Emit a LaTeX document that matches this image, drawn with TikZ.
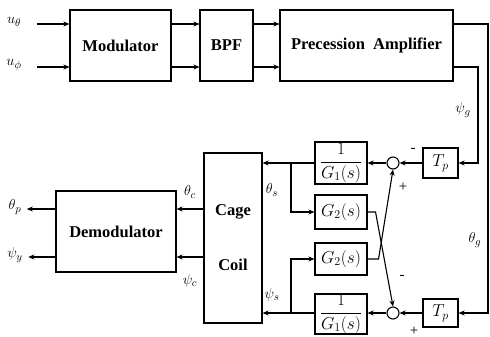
\documentclass[tikz,border=0pt]{standalone}
\usepackage{fontspec}
\setmainfont{Liberation Serif}
\usetikzlibrary{arrows.meta, positioning, calc}

\begin{document}
\begin{tikzpicture}[x=1pt, y=-1pt, >={Stealth[length=6pt, width=5pt]}, line width=1.1pt,
  blk/.style={draw, font=\fontsize{16.5}{19}\selectfont\bfseries, inner sep=0pt},
  sig/.style={font=\fontsize{15}{17}\selectfont, inner sep=1pt},
  sumc/.style={draw, circle, minimum size=12pt, inner sep=0pt}]
  \useasboundingbox (0,0) rectangle (490,337);
  \node[blk, minimum width=101pt, minimum height=71pt] (mod) at (120.5,45.5) {Modulator};
  \node[blk, minimum width=53pt, minimum height=71pt] (bpf) at (226.5,45.5) {BPF};
  \node[blk, minimum width=173pt, minimum height=71pt] (pa) at (366.5,45.5) {Precession\ \ Amplifier};
  \node[sig] (uth) at (14,22) {$u_\theta$};
  \node[sig] (uph) at (14,65) {$u_\phi$};
  \draw[->] ([xshift=14pt]uth.east |- 0,24) -- ([yshift=21.5pt]mod.west);
  \draw[->] ([xshift=14pt]uph.east |- 0,67) -- ([yshift=-21.5pt]mod.west);
  \draw[->] ([yshift=21.5pt]mod.east) -- ([yshift=21.5pt]bpf.west);
  \draw[->] ([yshift=-21.5pt]mod.east) -- ([yshift=-21.5pt]bpf.west);
  \draw[->] ([yshift=21.5pt]bpf.east) -- ([yshift=21.5pt]pa.west);
  \draw[->] ([yshift=-21.5pt]bpf.east) -- ([yshift=-21.5pt]pa.west);
  \node[blk, minimum width=35pt, minimum height=30pt] (tp1) at (440.5,163) {$T_p$};
  \node[blk, minimum width=35pt, minimum height=28pt] (tp2) at (440.5,313) {$T_p$};
  \node[sumc] (s1) at (393,163) {};
  \node[sumc] (s2) at (393,313) {};
  \node[blk, minimum width=52pt, minimum height=42pt] (g1a) at (341,163) {$\displaystyle\frac{1}{G_1(s)}$};
  \node[blk, minimum width=52pt, minimum height=34pt] (g2a) at (341,212) {$G_2(s)$};
  \node[blk, minimum width=52pt, minimum height=32pt] (g2b) at (341,259) {$G_2(s)$};
  \node[blk, minimum width=52pt, minimum height=40pt] (g1b) at (341,314) {$\displaystyle\frac{1}{G_1(s)}$};
  \node[blk, minimum width=58pt, minimum height=170pt, align=center] (cc) at (233,238)
    {Cage\\[36pt]Coil};
  \node[blk, minimum width=120pt, minimum height=81pt] (dem) at (116,231.5) {Demodulator};
  \coordinate (rgt) at (488,0);
  \coordinate (rgt2) at (478,0);
  \draw[->] ([yshift=21.5pt]pa.east) -| (rgt |- tp2) -- (tp2.east);
  \draw[->] ([yshift=-21.5pt]pa.east) -| (rgt2 |- tp1) -- (tp1.east);
  \node[sig] at (463,110) {$\psi_g$};
  \node[sig] at (475,240) {$\theta_g$};
  \draw[->] (tp1.west) -- (s1.east);
  \draw[->] (tp2.west) -- (s2.east);
  \draw[->] (s1.west) -- (g1a.east);
  \draw[->] (s2.west) -- (g1b.east |- s2);
  \draw[->] (g1a.west) -- (cc.east |- g1a);
  \draw[->] (g1b.west |- s2) -- (cc.east |- s2);
  \coordinate (br1) at (291,163);
  \coordinate (br2) at (291,313);
  \draw[->] (br1) |- (g2a.west);
  \draw[->] (br2) |- (g2b.west);
  \draw[->] (g2a.east) -- ++(8,0) -- (s2.north);
  \draw[->] (g2b.east) -- ++(11,0) -- (s1.south);
  \node[sig] at (413,150) {-};
  \node[sig] at (403,187) {+};
  \node[sig] at (402,277) {-};
  \node[sig] at (414,331) {+};
  \node[sig] at (272,190) {$\theta_s$};
  \node[sig] at (272,295) {$\psi_s$};
  \draw[->] (cc.west |- 0,209) -- (dem.east |- 0,209);
  \draw[->] (cc.west |- 0,257) -- (dem.east |- 0,257);
  \node[sig] at (190,192) {$\theta_c$};
  \node[sig] at (190,281) {$\psi_c$};
  \node[sig] (thp) at (15,207) {$\theta_p$};
  \node[sig] (psy) at (15,255) {$\psi_y$};
  \draw[->] (dem.west |- 0,209) -- ([xshift=4pt]thp.east |- 0,209);
  \draw[->] (dem.west |- 0,257) -- ([xshift=4pt]psy.east |- 0,257);
\end{tikzpicture}
\end{document}
